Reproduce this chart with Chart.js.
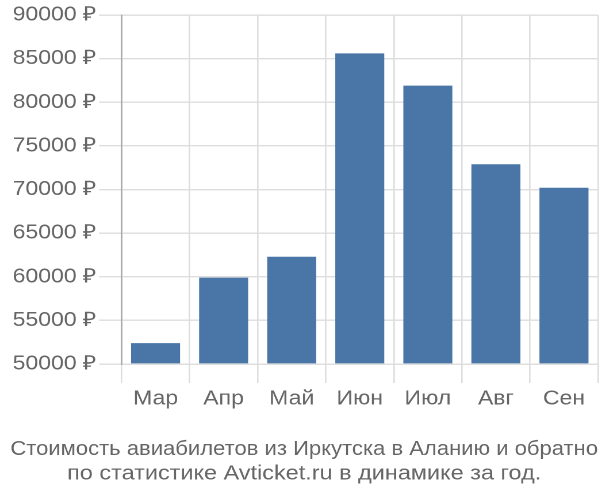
<!DOCTYPE html>
<html>
<head>
<meta charset="utf-8">
<script src="https://cdn.jsdelivr.net/npm/chart.js@4"></script>
<style>
  html, body { margin: 0; padding: 0; background: #fff; overflow: hidden; }
  #wrap { width: 600px; height: 500px; overflow: hidden; }
  /* the reference text is a little wider than Liberation Sans */
  #chart { transform: scaleX(1.15); transform-origin: 0 0; }
</style>
</head>
<body>
<div id="wrap"><canvas id="chart" width="522" height="500"></canvas></div>
<script>
const months = ['Мар', 'Апр', 'Май', 'Июн', 'Июл', 'Авг', 'Сен'];
const prices = [52400, 59900, 62300, 85600, 81900, 72900, 70200];
const titleLines = ['Стоимость авиабилетов из Иркутска в Аланию и обратно', 'по статистике Avticket.ru в динамике за год.'];

const fontFam = '"Liberation Sans", Arial, sans-serif';
const ctx = document.getElementById('chart').getContext('2d');
new Chart(ctx, {
    type: 'bar',
    data: {
        labels: months,
        datasets: [{
            data: prices,
            base: 50000,
            backgroundColor: '#4a76a7',
            borderWidth: 0
        }]
    },
    options: {
        responsive: false,
        animation: false,
        devicePixelRatio: 2,
        layout: { padding: { left: 9, right: 2, top: 15, bottom: 0 } },
        plugins: {
            legend: { display: false },
            tooltip: { enabled: false },
            title: {
                display: true,
                position: 'bottom',
                text: titleLines,
                color: '#666',
                font: { family: fontFam, size: 20.4, weight: 'normal' },
                padding: { top: 22, bottom: 14 },
                lineHeight: 1.38
            }
        },
        scales: {
            x: {
                grid: { color: '#ddd', lineWidth: 1.3, offset: true, tickLength: 19 },
                border: { color: '#ddd', width: 1.3 },
                ticks: { color: '#666', font: { family: fontFam, size: 20 }, padding: 4 }
            },
            y: {
                min: 50000,
                max: 90000,
                grid: { color: '#ddd', lineWidth: 1.4, tickLength: 19.5 },
                border: { color: '#aaa', width: 1.4 },
                ticks: {
                    stepSize: 5000,
                    color: '#666',
                    padding: 2,
                    font: { family: fontFam, size: 20 },
                    callback: v => v + ' ₽'
                }
            }
        }
    }
});
</script>
</body>
</html>
